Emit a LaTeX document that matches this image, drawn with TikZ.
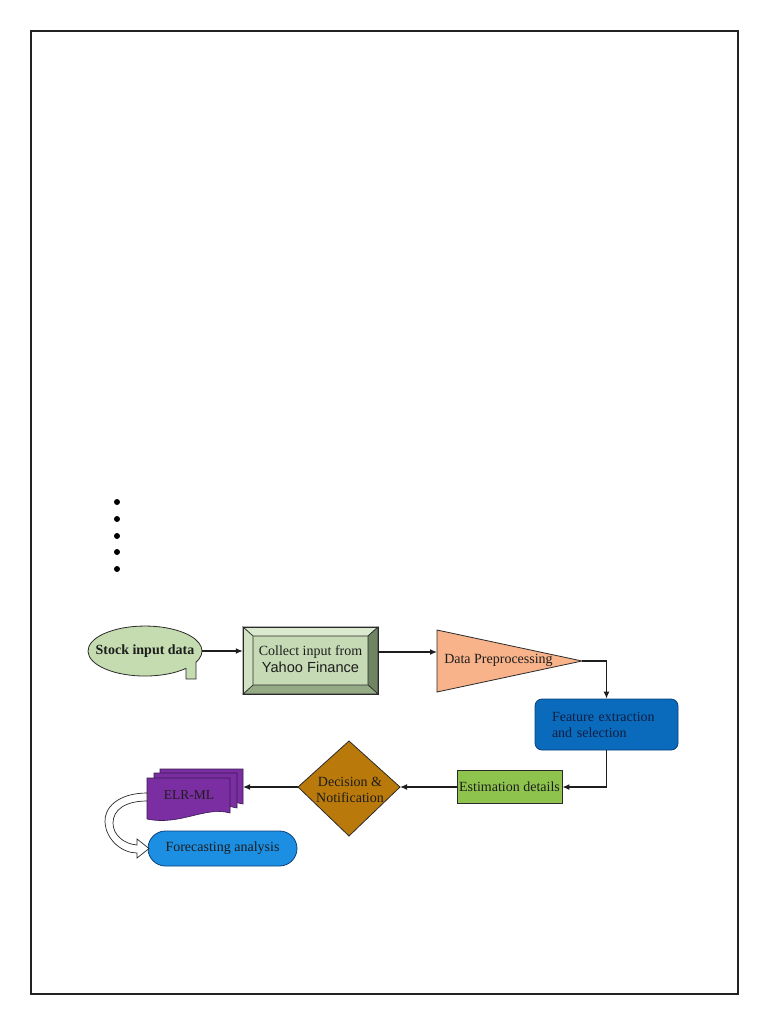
\documentclass[tikz,border=0pt]{standalone}
\usepackage{fontspec}
\setmainfont{Liberation Serif}
\newfontfamily\arialf{Liberation Sans}
\usetikzlibrary{arrows.meta,shapes.geometric}
\definecolor{framec}{HTML}{222222}
\definecolor{edgec}{HTML}{2A2A2A}
\definecolor{linec}{HTML}{1E1E1E}
\definecolor{txt}{HTML}{1D1D1D}
\definecolor{navytxt}{HTML}{0E1E40}
\definecolor{stockc}{HTML}{C4DCB0}
\definecolor{collc}{HTML}{C6DBB5}
\definecolor{bevtop}{HTML}{DBE9CF}
\definecolor{bevleft}{HTML}{D0E2C2}
\definecolor{bevright}{HTML}{6F8462}
\definecolor{bevbot}{HTML}{95AB86}
\definecolor{prepc}{HTML}{F9B38A}
\definecolor{featc}{HTML}{0A6BBD}
\definecolor{featedge}{HTML}{0A3F7A}
\definecolor{estc}{HTML}{8EC44E}
\definecolor{decc}{HTML}{B97A0B}
\definecolor{elrc}{HTML}{7A2EA2}
\definecolor{elredge}{HTML}{3A1A50}
\definecolor{forec}{HTML}{1C8FE3}
\begin{document}
\begin{tikzpicture}[x=1pt,y=-1pt,
  lab/.style={font=\fontsize{14}{16}\selectfont, text=txt, inner sep=0pt},
  conn/.style={draw=linec, line width=1.3pt, -{Latex[length=7pt,width=6pt]}},
  shapeedge/.style={draw=edgec, line width=0.8pt},
  bevel/.style={draw=edgec, line width=0.6pt}]
\useasboundingbox (0,0) rectangle (768,1024);
% page frame
\draw[draw=framec, line width=1.3pt] (31,31) rectangle (738,994);
% bullets
\foreach \yy in {502,519,536,552,569} \fill[black] (117,\yy) circle[radius=3];

% Stock input data (callout ellipse)
\path[fill=stockc, shapeedge] (186,668.4) arc[start angle=44, end angle=386.5, x radius=57, y radius=25] -- (196,679) -- (186,679) -- cycle;
\node[lab, shape=rectangle, minimum width=114, minimum height=50] (stock) at (145,651) {\textbf{Stock input data}};

% Collect input (bevel box)
\node[lab, minimum width=135, minimum height=67, fill=collc] (collect) at (310.5,660.5) {};
\path[fill=bevtop, bevel] (243,627) -- (378,627) -- (368,636) -- (253,636) -- cycle;
\path[fill=bevright, bevel] (378,627) -- (378,694) -- (368,685) -- (368,636) -- cycle;
\path[fill=bevbot, bevel] (378,694) -- (243,694) -- (253,685) -- (368,685) -- cycle;
\path[fill=bevleft, bevel] (243,694) -- (243,627) -- (253,636) -- (253,685) -- cycle;
\draw[draw=edgec, line width=1pt] (243,627) rectangle (378,694);
\node[lab, align=center] (collecttext) at (310.5,659.5) {Collect input from\\[1pt]{\arialf\fontsize{14.6}{16}\selectfont Yahoo Finance}};

% Data Preprocessing (triangle)
\path[fill=prepc, shapeedge] (437,630) -- (582,661) -- (437,692) -- cycle;
\coordinate (prepin) at (437,652);
\coordinate (prepapex) at (582,661);
\node[lab] (prep) at (498.5,660) {Data Preprocessing};

% Feature extraction
\node[lab, text=navytxt, minimum width=143, minimum height=51, rounded corners=7pt, fill=featc, draw=featedge, line width=0.8pt, align=left, text width=109] (feat) at (606.5,724.5) {Feature extraction\\and selection};

% Estimation details
\node[lab, minimum width=105, minimum height=33, fill=estc, draw=edgec, line width=0.8pt] (est) at (509.5,787) {Estimation details};

% Decision diamond
\path[fill=decc, shapeedge] (349,741) -- (400,787) -- (349,836) -- (298,787) -- cycle;
\coordinate (dece) at (400,787);
\coordinate (decw) at (298,787);
\node[lab, align=center, font=\fontsize{14}{16}\selectfont] (dec) at (350,789.5) {Decision \&\\Notification};

% ELR-ML multi-document
\foreach \dx/\dy in {13/-9, 7/-5, 0/0} {
  \path[fill=elrc, draw=elredge, line width=0.6pt, shift={(\dx,\dy)}]
    (147,778) -- (230,778) -- (230,813) .. controls (205,806) and (180,826) .. (147,819) -- cycle;
}
\coordinate (elre) at (243,787);
\node[lab, font=\fontsize{13.5}{15}\selectfont] (elr) at (189,795) {ELR-ML};

% Forecasting analysis
\node[lab, minimum width=149, minimum height=35, rounded corners=17.5pt, fill=forec, draw=featedge, line width=0.8pt] (fore) at (222.5,848.5) {Forecasting analysis};

% curved block arrow ELR-ML -> Forecasting
\path[fill=white, draw=edgec, line width=0.7pt]
  (147,793) .. controls (118,793) and (104,808) .. (105,822)
  .. controls (106,840) and (122,853) .. (137,853)
  -- (137,858) -- (149,848.5) -- (137,839) -- (137,845)
  .. controls (124,844) and (113,835) .. (113,823)
  .. controls (113,810) and (125,801) .. (147,801) -- cycle;

% connectors
\draw[conn] (stock.east) -- (stock.east -| collect.west);
\draw[conn] (collect.east |- prepin) -- (prepin);
\draw[conn] (prepapex) -| (feat.north);
\draw[conn] (feat.south) |- (est.east);
\draw[conn] (est.west) -- (dece);
\draw[conn] (decw) -- (elre);
\end{tikzpicture}
\end{document}
